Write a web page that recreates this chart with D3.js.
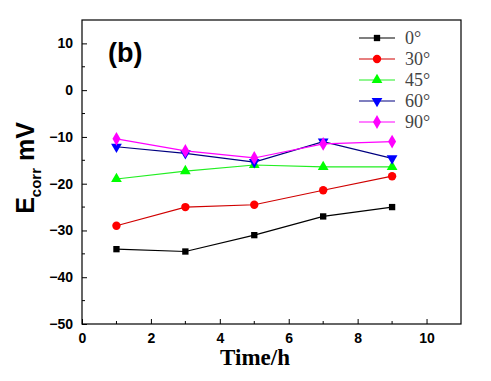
<!DOCTYPE html>
<meta charset="utf-8">
<style>
body { margin: 0; background: #fff; }
svg { display: block; }
.tick text { font-family: "Liberation Sans", Arial, sans-serif; font-weight: bold; font-size: 14px; fill: #000; }
</style>
<svg width="491" height="381"></svg>
<script src="https://d3js.org/d3.v7.min.js"></script>
<script>

var times = [1, 3, 5, 7, 9];
var angles = ["0°", "30°", "45°", "60°", "90°"];
var e0 = [-34, -34.5, -31, -27, -25];
var e30 = [-29, -25, -24.5, -21.4, -18.4];
var e45 = [-19, -17.3, -16, -16.4, -16.4];
var e60 = [-12.1, -13.5, -15.4, -11, -14.6];
var e90 = [-10.4, -13, -14.5, -11.5, -11];
var xTicks = [0, 2, 4, 6, 8, 10];
var yTicks = [-50, -40, -30, -20, -10, 0, 10];

var series = [
  {name: angles[0], values: e0, line: "#000", fill: "#000", sym: d3.symbolSquare, size: 40},
  {name: angles[1], values: e30, line: "#d00000", fill: "#ff0000", sym: d3.symbolCircle, size: 55},
  {name: angles[2], values: e45, line: "#22ee22", fill: "#00ff00", sym: d3.symbolTriangle, size: 50},
  {name: angles[3], values: e60, line: "#000080", fill: "#0000ff", sym: "down", size: 50},
  {name: angles[4], values: e90, line: "#ff00ff", fill: "#ff00ff", sym: d3.symbolDiamond, size: 55}
];

var svg = d3.select("svg"),
    margin = {top: 20, right: 30, bottom: 57, left: 82},
    width = 461 - margin.left,
    height = 324 - margin.top;

var x = d3.scaleLinear().domain([0, 11]).range([0, width]),
    y = d3.scaleLinear().domain([-50, 15]).range([height, 0]);

var g = svg.append("g")
    .attr("transform", "translate(" + margin.left + "," + margin.top + ")");

function marker(sel, s) {
  if (s.sym === "down") {
    sel.attr("d", d3.symbol().type(d3.symbolTriangle).size(s.size))
      .attr("transform", function() { return d3.select(this).attr("transform") + " rotate(180)"; });
  } else {
    sel.attr("d", d3.symbol().type(s.sym).size(s.size));
  }
}

// frame
g.append("rect")
    .attr("width", width).attr("height", height)
    .attr("fill", "none").attr("stroke", "#000").attr("stroke-width", 1.2);

// minor ticks
g.append("g").selectAll("line")
    .data(d3.range(1, 11, 2))
  .enter().append("line")
    .attr("x1", function(d) { return x(d); }).attr("x2", function(d) { return x(d); })
    .attr("y1", height).attr("y2", height - 3).attr("stroke", "#000");
g.append("g").selectAll("line")
    .data(d3.range(-45, 15, 10))
  .enter().append("line")
    .attr("y1", function(d) { return y(d); }).attr("y2", function(d) { return y(d); })
    .attr("x1", 0).attr("x2", 3).attr("stroke", "#000");

var xAxis = g.append("g")
    .attr("transform", "translate(0," + height + ")")
    .call(d3.axisBottom(x).tickValues(xTicks).tickSizeInner(-5).tickSizeOuter(0).tickPadding(9));
xAxis.select(".domain").remove();

var yAxis = g.append("g")
    .call(d3.axisLeft(y).tickValues(yTicks).tickSizeInner(-5).tickSizeOuter(0).tickPadding(9));
yAxis.select(".domain").remove();

// data
var line = d3.line()
    .x(function(d, i) { return x(times[i]); })
    .y(function(d) { return y(d); });

series.forEach(function(s) {
  g.append("path")
      .datum(s.values)
      .attr("fill", "none")
      .attr("stroke", s.line)
      .attr("stroke-width", 1.2)
      .attr("d", line);
  g.selectAll(null)
      .data(s.values)
    .enter().append("path")
      .attr("fill", s.fill)
      .attr("transform", function(d, i) { return "translate(" + x(times[i]) + "," + y(d) + ")"; })
      .each(function() { marker(d3.select(this), s); });
});

// legend
var legend = svg.append("g");
series.forEach(function(s, i) {
  var ly = 38 + i * 21;
  legend.append("line")
      .attr("x1", 359).attr("x2", 395).attr("y1", ly).attr("y2", ly)
      .attr("stroke", s.line).attr("stroke-width", 1.2);
  legend.append("path")
      .attr("fill", s.fill)
      .attr("transform", "translate(377," + ly + ")")
      .each(function() { marker(d3.select(this), s); });
  legend.append("text")
      .attr("x", 405).attr("y", ly + 6)
      .attr("font-family", "'Liberation Serif', 'Times New Roman', serif")
      .attr("font-size", 18)
      .attr("fill", "#444")
      .text(s.name);
});

// panel label
svg.append("text")
    .attr("x", 108).attr("y", 62)
    .attr("font-family", "'Liberation Sans', Arial, sans-serif")
    .attr("font-weight", "bold")
    .attr("font-size", 27)
    .text("(b)");

// axis titles
svg.append("text")
    .attr("x", 255).attr("y", 365)
    .attr("text-anchor", "middle")
    .attr("font-family", "'Liberation Serif', 'Times New Roman', serif")
    .attr("font-weight", "bold")
    .attr("font-size", 23)
    .text("Time/h");

var yl = svg.append("text")
    .attr("transform", "translate(34,168) rotate(-90)")
    .attr("text-anchor", "middle")
    .attr("font-family", "'Liberation Sans', Arial, sans-serif")
    .attr("font-weight", "bold")
    .attr("font-size", 25);
yl.append("tspan").text("E");
yl.append("tspan").attr("font-size", 15).attr("dy", 7).text("corr");
yl.append("tspan").attr("dy", -7).text(" mV");

</script>
